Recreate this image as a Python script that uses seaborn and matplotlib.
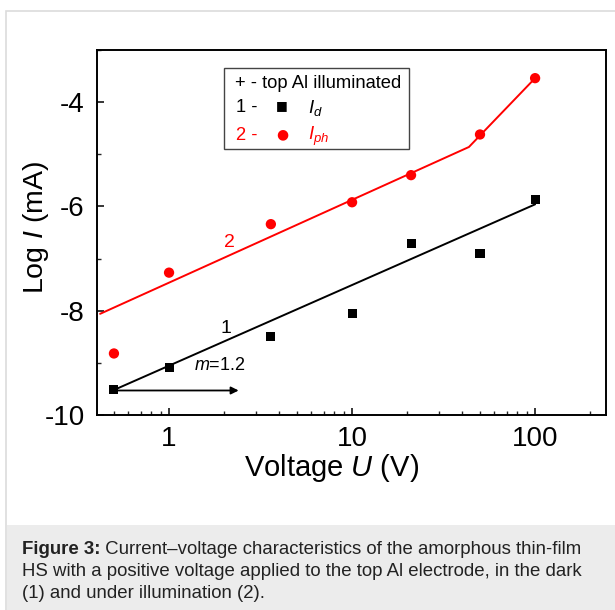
import numpy as np
import pandas as pd
import matplotlib
matplotlib.use("Agg")
import matplotlib.pyplot as plt
import matplotlib.ticker as mticker
from matplotlib.patches import Rectangle
import seaborn as sns

# ---- data ----
voltage = [0.5, 1.0, 3.6, 10.0, 21.0, 50.0, 100.0]
log_i_dark = [-9.52, -9.09, -8.49, -8.05, -6.72, -6.90, -5.87]
log_i_photo = [-8.82, -7.27, -6.34, -5.92, -5.40, -4.62, -3.54]

fit_dark_x = [0.5, 100.0]
fit_dark_y = [-9.52, -5.96]
fit_photo_x = [0.42, 43.5, 100.0]
fit_photo_y = [-8.06, -4.86, -3.54]

arrow_x = [0.5, 2.4]
arrow_y = [-9.53, -9.53]

x_ticks = [1, 10, 100]
x_ticklabels = ["1", "10", "100"]
y_ticks = [-10, -8, -6, -4]
y_ticklabels = ["-10", "-8", "-6", "-4"]

caption_bold = "Figure 3:"
caption_lines = [" Current\u2013voltage characteristics of the amorphous thin-film",
                 "HS with a positive voltage applied to the top Al electrode, in the dark",
                 "(1) and under illumination (2)."]

# ---- style ----
sns.set_theme(style="white")
plt.rcParams["font.family"] = ["Liberation Sans", "DejaVu Sans"]
plt.rcParams["mathtext.fontset"] = "custom"
plt.rcParams["mathtext.rm"] = "Liberation Sans"
plt.rcParams["mathtext.it"] = "Liberation Sans:italic"
plt.rcParams["mathtext.bf"] = "Liberation Sans:bold"
plt.rcParams["axes.unicode_minus"] = False

W, H = 615, 610
fig = plt.figure(figsize=(W / 100, H / 100), dpi=100)
fig.patch.set_facecolor("white")

# outer frame and caption band (behind everything)
fig.patches.append(Rectangle((6 / W, -0.01), 1 - 6 / W + 0.01, 1 - 11 / H + 0.01, transform=fig.transFigure,
                             facecolor="white", edgecolor="#dcdcdc", lw=1.2, zorder=-10))
fig.patches.append(Rectangle((6.7 / W, 0), 1 - 6.7 / W, (H - 525) / H, transform=fig.transFigure,
                             facecolor="#ececec", edgecolor="none", zorder=-9))

ax = fig.add_axes([97 / W, (H - 415) / H, 509 / W, 365 / H])
ax.set_facecolor("white")
ax.set_zorder(2)

df_d = pd.DataFrame({"U": voltage, "I": log_i_dark})
df_p = pd.DataFrame({"U": voltage, "I": log_i_photo})
df_fd = pd.DataFrame({"U": fit_dark_x, "I": fit_dark_y})
df_fp = pd.DataFrame({"U": fit_photo_x, "I": fit_photo_y})

sns.lineplot(data=df_fd, x="U", y="I", sort=False, estimator=None, color="black", lw=1.4, ax=ax)
sns.lineplot(data=df_fp, x="U", y="I", sort=False, estimator=None, color="#ff0000", lw=1.4, ax=ax)
sns.scatterplot(data=df_d, x="U", y="I", marker="s", color="black", s=42, edgecolor="none", ax=ax, zorder=5)
sns.scatterplot(data=df_p, x="U", y="I", marker="o", color="#ff0000", s=55, edgecolor="none", ax=ax, zorder=5)

ax.annotate("", xy=(arrow_x[1], arrow_y[1]), xytext=(arrow_x[0], arrow_y[0]),
            arrowprops=dict(arrowstyle="-|>", color="black", lw=1.3, mutation_scale=11,
                            shrinkA=0, shrinkB=0), zorder=4)

ax.set_xscale("log")
ax.set_xlim(0.404, 244)
ax.set_ylim(-10, -3)
ax.set_xticks(x_ticks)
ax.set_xticklabels(x_ticklabels)
ax.xaxis.set_minor_locator(mticker.LogLocator(base=10, subs=np.arange(2, 10)))
ax.xaxis.set_minor_formatter(mticker.NullFormatter())
ax.set_yticks(y_ticks)
ax.set_yticklabels(y_ticklabels)
ax.yaxis.set_minor_locator(mticker.MultipleLocator(1))

ax.tick_params(axis="both", which="major", direction="in", length=5, width=1.1,
               labelsize=20, colors="black", pad=8, bottom=True, left=True)
ax.tick_params(axis="y", which="major", pad=9)
ax.tick_params(axis="both", which="minor", direction="in", length=3, width=1.0,
               bottom=True, left=True)
for sp in ax.spines.values():
    sp.set_visible(True)
    sp.set_color("black")
    sp.set_linewidth(1.4)

ax.set_xlabel("Voltage $U$ (V)", fontsize=21, color="black")
ax.set_ylabel("Log $I$ (mA)", fontsize=20.5, color="black")
ax.xaxis.set_label_coords((332 - 97) / 509, (415 - 468) / 365)
ax.yaxis.set_label_coords((36 - 97) / 509, (415 - 227.5) / 365)
ax.xaxis.label.set_va("center")
ax.yaxis.label.set_va("center")

# curve labels
ax.text(2.14, -6.69, "2", color="#ff0000", fontsize=14, ha="center", va="center")
ax.text(2.04, -8.35, "1", color="black", fontsize=14, ha="center", va="center")
ax.text(1.9, -9.06, "$m$=1.2", color="black", fontsize=13, ha="center", va="center")


# legend box
def axx(px):
    return (px - 97) / 509


def axy(py):
    return (415 - py) / 365


ax.add_patch(Rectangle((axx(223.5), axy(149.3)), axx(408.6) - axx(223.5), axy(68.3) - axy(149.3),
                       transform=ax.transAxes, facecolor="white", edgecolor="#444444", lw=1.0, zorder=6))
ax.text(axx(235), axy(84), "+ - top Al illuminated", transform=ax.transAxes, fontsize=13.2,
        color="black", va="center", ha="left", zorder=7)
ax.text(axx(236), axy(107), "1 -", transform=ax.transAxes, fontsize=13.2, color="black",
        va="center", ha="left", zorder=7)
ax.text(axx(282), axy(106), "\u25a0", transform=ax.transAxes, fontsize=9, color="black",
        va="center", ha="center", family="DejaVu Sans", zorder=7)
ax.text(axx(308), axy(108), "$I_d$", transform=ax.transAxes, fontsize=13.5, color="black",
        va="center", ha="left", zorder=7)
ax.text(axx(236), axy(135), "2 -", transform=ax.transAxes, fontsize=13.2, color="#ff0000",
        va="center", ha="left", zorder=7)
ax.text(axx(282), axy(134), "\u25cf", transform=ax.transAxes, fontsize=10, color="#ff0000",
        va="center", ha="center", family="DejaVu Sans", zorder=7)
ax.text(axx(308), axy(136), "$I_{ph}$", transform=ax.transAxes, fontsize=13.5, color="#ff0000",
        va="center", ha="left", zorder=7)

# caption
cap_fs = 13.45
renderer = fig.canvas.get_renderer()
tb = fig.text(22 / W, 1 - 554 / H, caption_bold, fontsize=cap_fs, fontweight="bold",
              color="#222222", ha="left", va="baseline")
bb = tb.get_window_extent(renderer=renderer)
fig.text(bb.x1 / W, 1 - 554 / H, caption_lines[0], fontsize=cap_fs, color="#222222",
         ha="left", va="baseline")
fig.text(22 / W, 1 - 576 / H, caption_lines[1], fontsize=cap_fs, color="#222222",
         ha="left", va="baseline")
fig.text(22 / W, 1 - 598 / H, caption_lines[2], fontsize=cap_fs, color="#222222",
         ha="left", va="baseline")

fig.savefig("out.png", dpi=100, facecolor="white")
